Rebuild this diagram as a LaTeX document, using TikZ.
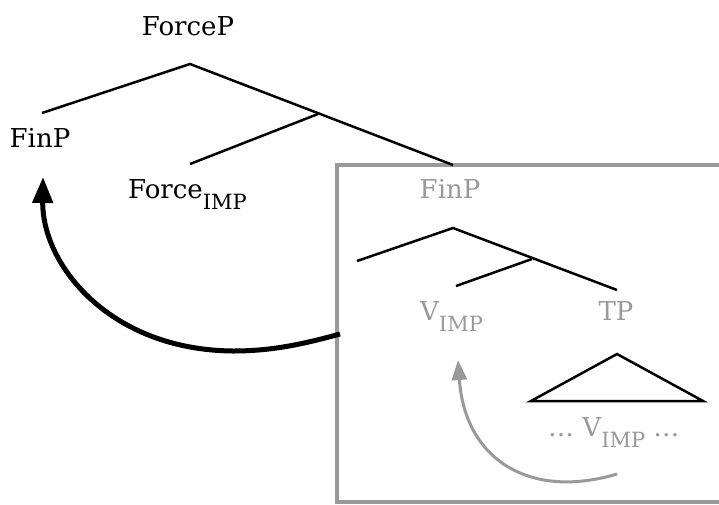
\documentclass[tikz,border=0pt]{standalone}
\usepackage{fontspec}
\setmainfont{DejaVu Serif}
\usetikzlibrary{arrows.meta}
\definecolor{lgray}{HTML}{999999}
\newcommand\subimp{\raisebox{-11pt}{\fontsize{21}{24}\selectfont IMP}}
\tikzset{
  lbl/.style={font=\fontsize{26}{30}\selectfont, inner sep=0pt, anchor=base},
  glbl/.style={lbl, text=lgray},
  branch/.style={line width=2.5pt},
  boxline/.style={draw=lgray, line width=4pt},
  bigmove/.style={line width=5pt, -{Triangle[length=26pt,width=20pt]}},
  smallmove/.style={draw=lgray, line width=3pt, -{Triangle[length=20pt,width=15pt]}}
}
\begin{document}
\begin{tikzpicture}[x=1pt,y=-1pt]
\useasboundingbox (0,0) rectangle (719,504);
% labels
\node[lbl] (forcep) at (188,35) {ForceP};
\node[lbl] (finp) at (40,147) {FinP};
\node[lbl, anchor=base west] (forceimp) at (128,198) {Force\subimp};
\node[glbl] (finp2) at (450,198) {FinP};
\node[glbl, anchor=base west] (vimp) at (420,320) {V\subimp};
\node[glbl] (tp) at (616,320) {TP};
\node[glbl, anchor=base west] (vlow) at (548,436) {… V\subimp{} …};
% tree coordinates
\coordinate (a1) at (190,64);
\coordinate (l1) at (42,113);
\coordinate (m1) at (318,114);
\coordinate (f1) at (190,164);
\coordinate (r1) at (453,165);
\coordinate (a2) at (453,228);
\coordinate (l2) at (357,261);
\coordinate (m2) at (532,259);
\coordinate (v2) at (456,286);
\coordinate (t2) at (617,290);
\coordinate (tri1) at (617,354);
\coordinate (tri2) at (531,401);
\coordinate (tri3) at (703,401);
% box
\coordinate (bx1) at (722,165);
\coordinate (bx2) at (337,165);
\coordinate (bx3) at (337,502);
\coordinate (bx4) at (722,502);
\draw[boxline] (bx1) -- (bx2) -- (bx3) -- (bx4);
% branches
\draw[branch] (l1) -- (a1) -- (r1);
\draw[branch] (m1) -- (f1);
\draw[branch] (l2) -- (a2) -- (t2);
\draw[branch] (m2) -- (v2);
\draw[branch] (tri1) -- (tri2) -- (tri3) -- cycle;
% movement arrows
\coordinate (bstart) at (340,334);
\coordinate (bmid) at (233,351);
\coordinate (bend) at (43,177);
\draw[bigmove] (bstart) .. controls (300,345) and (270,351) .. (bmid)
  .. controls (110,350) and (42,265) .. (bend);
\coordinate (gstart) at (617,474);
\coordinate (gend) at (458,360);
\draw[smallmove] (gstart) .. controls (530,500) and (465,460) .. (gend);
\end{tikzpicture}
\end{document}
